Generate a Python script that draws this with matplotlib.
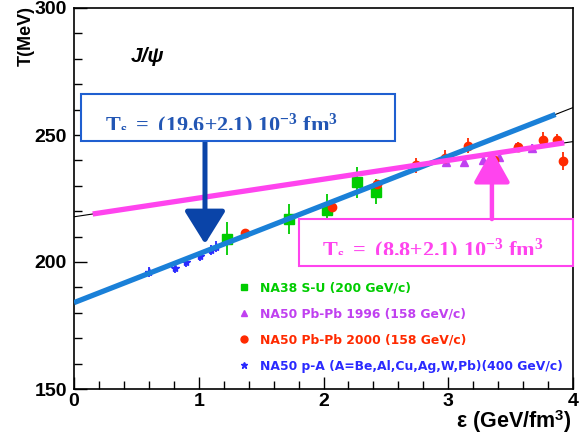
import matplotlib
matplotlib.use("Agg")
import matplotlib.pyplot as plt
from matplotlib.patches import Rectangle
from matplotlib.lines import Line2D

plt.rcParams['font.family'] = ['Liberation Sans', 'DejaVu Sans']
plt.rcParams['mathtext.fontset'] = 'custom'
plt.rcParams['mathtext.rm'] = 'Liberation Serif:bold'
plt.rcParams['mathtext.bf'] = 'Liberation Serif:bold'
plt.rcParams['mathtext.it'] = 'Liberation Serif:bold:italic'
plt.rcParams['mathtext.sf'] = 'Liberation Sans:bold'

# NA38 S-U (200 GeV/c)
su_eps = [1.23, 1.72, 2.03, 2.27, 2.42]
su_T = [209.2, 216.9, 220.6, 231.3, 227.7]
su_err = [6.5, 6.0, 6.0, 6.0, 5.0]

# NA50 Pb-Pb 1996 (158 GeV/c)
pb96_eps = [2.98, 3.13, 3.28, 3.41, 3.54, 3.67]
pb96_T = [239.3, 239.2, 240.3, 241.2, 245.4, 244.8]
pb96_err = [1.5, 1.5, 1.5, 1.5, 1.5, 1.5]

# NA50 Pb-Pb 2000 (158 GeV/c)
pb00_eps = [1.37, 2.07, 2.43, 2.74, 2.97, 3.16, 3.37, 3.56, 3.76, 3.87, 3.92]
pb00_T = [211.3, 221.8, 230.9, 238.0, 241.0, 245.8, 240.2, 245.3, 248.2, 248.0, 239.9]
pb00_err = [1.0, 1.5, 1.5, 3.0, 3.0, 3.0, 2.0, 2.0, 3.0, 2.5, 3.5]

# NA50 p-A (400 GeV/c)
pa_eps = [0.60, 0.81, 0.90, 1.01, 1.10, 1.14]
pa_T = [196.1, 197.5, 200.0, 202.5, 204.8, 206.1]
pa_err = [2.0, 2.0, 2.0, 2.0, 2.0, 2.0]

# linear fits: drawn part (thick) and the thin black continuation
blue_fit_eps = [0.0, 3.86]
blue_fit_T = [184.0, 258.1]
blue_ext_eps = [3.86, 4.0]
blue_ext_T = [258.1, 260.8]
mag_fit_eps = [0.15, 3.93]
mag_fit_T = [218.9, 246.9]
mag_ext_left_eps = [0.0, 0.15]
mag_ext_left_T = [217.8, 218.9]
mag_ext_right_eps = [3.93, 4.0]
mag_ext_right_T = [246.9, 247.4]

green = '#00cc00'
purple = '#c040f0'
red = '#ff2a00'
blue = '#2a2aff'
fitblue = '#1a80d8'
magenta = '#ff44ee'
darkblue = '#0a44a8'

fig = plt.figure(figsize=(5.85, 4.36), dpi=100)
ax = fig.add_axes([74/585, 1-389/436, 499/585, 381/436])

ax.plot(mag_ext_left_eps, mag_ext_left_T, color='black', lw=0.8, zorder=3)
ax.plot(mag_ext_right_eps, mag_ext_right_T, color='black', lw=0.8, zorder=3)
ax.plot(blue_ext_eps, blue_ext_T, color='black', lw=0.8, zorder=3)

ax.errorbar(su_eps, su_T, yerr=su_err, fmt='s', color=green, ms=6.5, elinewidth=1.3, capsize=0, zorder=2)
ax.errorbar(pb96_eps, pb96_T, yerr=pb96_err, fmt='^', color=purple, ms=6, elinewidth=1.3, capsize=0, zorder=2)
ax.errorbar(pb00_eps, pb00_T, yerr=pb00_err, fmt='o', color=red, ms=6, elinewidth=1.3, capsize=0, zorder=2)
ax.errorbar(pa_eps, pa_T, yerr=pa_err, fmt='*', color=blue, ms=6, elinewidth=1.3, capsize=0, zorder=2)

ax.plot(blue_fit_eps, blue_fit_T, color=fitblue, lw=3.8, solid_capstyle='butt', zorder=3)
ax.plot(mag_fit_eps, mag_fit_T, color=magenta, lw=3.8, solid_capstyle='butt', zorder=3)

ax.set_xlim(0, 4)
ax.set_ylim(150, 300)
ax.set_xticks([0, 1, 2, 3, 4])
ax.set_yticks([150, 200, 250, 300])
ax.set_xticks([i * 0.2 for i in range(21)], minor=True)
ax.set_yticks([150 + i * 10 for i in range(16)], minor=True)
ax.tick_params(which='both', direction='in', top=False, right=False, labelsize=14)
ax.tick_params(which='major', length=9, width=1)
ax.tick_params(which='minor', length=6, width=1)
ax.tick_params(axis='x', pad=3)
ax.tick_params(axis='y', pad=5)
for lab in ax.get_xticklabels() + ax.get_yticklabels():
    lab.set_fontweight('bold')
for sp in ax.spines.values():
    sp.set_linewidth(1.2)

fig.text(26/585, 1-6/436, 'T(MeV)', rotation=90, ha='center', va='top',
         fontsize=13, fontweight='bold')
fig.text(572/585, 0.002, r'ε (GeV/fm$^{\mathsf{3}}$)', ha='right', va='bottom',
         fontsize=15.5, fontweight='bold')

ax.text(0.593, 281.1, 'J/ψ', ha='center', va='center', fontsize=15,
        fontweight='bold', style='italic')

# blue box, text clipped at its baseline, arrow from the box bottom
ax.add_patch(Rectangle((0.056, 247.7), 2.517, 18.4, facecolor='white',
                       edgecolor='#1f5fd0', lw=1.5, zorder=4))
blue_clip = Rectangle((0.056, 252.0), 2.517, 14.1, transform=ax.transData)
t1 = ax.text(1.186, 251.5, r'$\mathbf{T_s\ =\ (19.6{\pm}2.1)\ 10^{-3}\ fm^3}$',
             ha='center', va='baseline', fontsize=16, color='#2256b4', zorder=5,
             clip_on=True)
t1.set_clip_path(blue_clip)
ax.annotate('', xy=(1.05, 207.1), xytext=(1.05, 249.0),
            arrowprops=dict(arrowstyle='-|>,head_width=0.28,head_length=0.45',
                            mutation_scale=45, lw=3.6, color=darkblue,
                            shrinkA=0, shrinkB=0), zorder=3.5)

# magenta box and arrow
ax.add_patch(Rectangle((1.804, 198.4), 2.196, 18.5, facecolor='white',
                       edgecolor=magenta, lw=1.5, zorder=4, clip_on=False))
mag_clip = Rectangle((1.804, 202.8), 2.196, 14.1, transform=ax.transData)
t2 = ax.text(2.878, 202.3, r'$\mathbf{T_s\ =\ (8.8{\pm}2.1)\ 10^{-3}\ fm^3}$',
             ha='center', va='baseline', fontsize=16, color=magenta, zorder=5,
             clip_on=True)
t2.set_clip_path(mag_clip)
ax.annotate('', xy=(3.35, 244.1), xytext=(3.35, 216.9),
            arrowprops=dict(arrowstyle='-|>,head_width=0.28,head_length=0.5',
                            mutation_scale=40, lw=3.2, color=magenta,
                            shrinkA=0, shrinkB=0), zorder=6)

handles = [
    Line2D([], [], ls='none', marker='s', color=green, ms=5),
    Line2D([], [], ls='none', marker='^', color=purple, ms=5),
    Line2D([], [], ls='none', marker='o', color=red, ms=5),
    Line2D([], [], ls='none', marker='*', color=blue, ms=5),
]
labels = ['NA38 S-U (200 GeV/c)', 'NA50 Pb-Pb 1996 (158 GeV/c)',
          'NA50 Pb-Pb 2000 (158 GeV/c)', 'NA50 p-A (A=Be,Al,Cu,Ag,W,Pb)(400 GeV/c)']
leg = ax.legend(handles, labels, loc='center left', bbox_to_anchor=(0.306, 0.163),
                frameon=False, labelcolor='linecolor', handlelength=1.0,
                handletextpad=0.8, labelspacing=1.06,
                prop={'family': 'DejaVu Sans', 'size': 8.95, 'weight': 'bold'})

fig.savefig('out.png', dpi=100)
